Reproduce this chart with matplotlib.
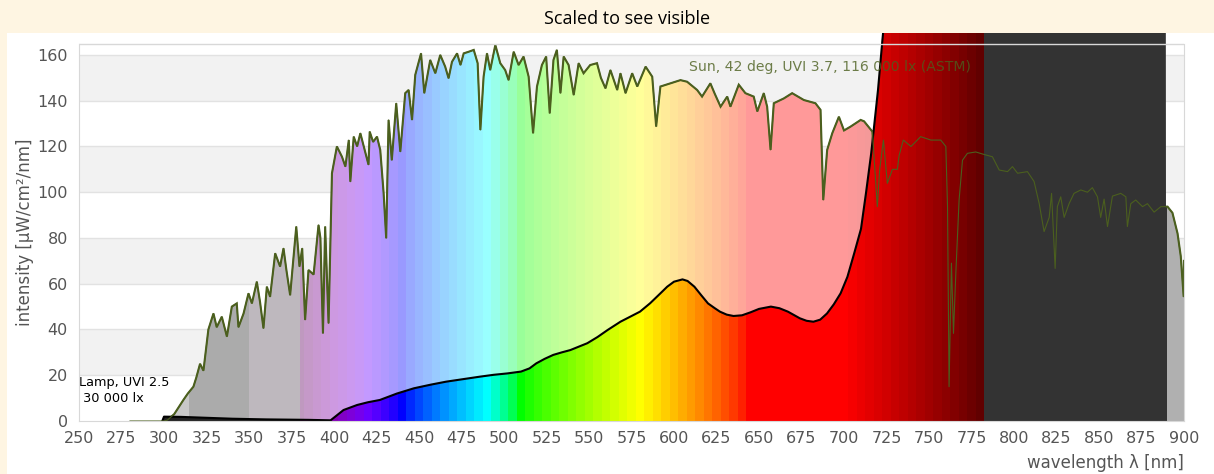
import numpy as np
import matplotlib
matplotlib.use("Agg")
import matplotlib.pyplot as plt
from matplotlib.patches import Polygon, Rectangle

# sun spectrum (ASTM, scaled)
sun_wl = [280, 300, 302, 306, 311.4, 314, 317.3, 319, 321.2, 323.2, 326.1, 329.1, 331, 334, 337,
          339.9, 342.8, 343.8, 346.8, 349.7, 351.7, 354.6, 356.5, 358.5, 360.5, 362.4, 365.4, 368.3,
          370.3, 372, 374.2, 376, 377.8, 379.7, 381.3, 383, 385, 388, 390.9, 392, 393.5, 394.8,
          396.8, 398.8, 401.7, 404.7, 406.7, 408.7, 409.6, 411.6, 413.6, 415.5, 417.5, 420.3, 421,
          423, 425.3, 427.2, 429.2, 430.7, 432.1, 434, 436.6, 439, 441.9, 443.9, 445.9, 447.8,
          451.2, 453.1, 456.6, 459.6, 462.5, 465.4, 467.4, 469.4, 472.4, 474.4, 476.3, 479.2,
          482.2, 484.5, 486.1, 488, 490, 491.9, 494.9, 497.8, 500.7, 502.7, 505.7, 508.6, 511.5,
          514.5, 517.1, 519.4, 522.3, 524.8, 526.9, 529.1, 531.1, 533.2, 535.1, 538, 541, 543.9,
          546.8, 550.7, 554.7, 557, 559.7, 562.6, 566.6, 568.5, 571.5, 575.4, 578.4, 583.3, 587.2,
          589.5, 592, 597.9, 603.8, 607.7, 613.6, 616.5, 621.4, 624, 627.4, 631.3, 633.2, 638.1,
          642, 646.9, 649, 652.8, 654.8, 656.8, 658.7, 664.6, 669.5, 676.4, 683.2, 686.2, 687.8,
          690.1, 693.1, 697, 700, 703.9, 709.8, 711.8, 714, 716.7, 719.6, 721, 723.2, 725.5, 728.5,
          731.4, 732.4, 734.9, 739.4, 745.1, 751.1, 756.9, 759.9, 760.9, 761.8, 763.2, 764.4, 765.8,
          767.7, 769.7, 772.6, 777.5, 782.4, 787.3, 791.3, 796.2, 799.1, 802.1, 807.9, 811.8, 814.8,
          817.7, 820.7, 822.1, 824.2, 825.5, 827.5, 829.5, 832.4, 835.3, 839.3, 843.2, 846.1, 849.1,
          851, 853, 855, 857.9, 862.8, 865.8, 866.7, 868.7, 871.6, 875.6, 878.5, 882.4, 886.4,
          890.3, 893.2, 896.2, 898.1, 899.8, 900]
sun_val = [0, 0, 0.4, 3, 9.2, 12, 15, 19, 25, 22, 40, 47, 41, 45.6, 36.9,
           50, 51.4, 41, 47, 55.8, 51.4, 60.9, 52, 40.5, 58.7, 54.3, 73.3, 67.5,
           75.5, 66, 55, 70, 85, 67.5, 75.5, 44.2, 66, 64, 85.7, 80, 38.3, 85,
           42.7, 108.3, 120, 115.5, 111.2, 122.8, 104.6, 124.3, 120, 125.8, 120, 112, 126.5,
           122, 124.3, 118.5, 99.5, 79.9, 131.6, 114, 138.9, 117.7, 143.3, 144.7, 131.6, 151.3,
           160.7, 143.3, 157.8, 152, 160, 154.9, 149.8, 157, 160.7, 155.6, 160.7, 161.4,
           162.2, 156.4, 127.2, 150.5, 160.7, 153.4, 164.4, 156.4, 153.4, 149, 161.4, 155.6, 159.3,
           150.5, 125.8, 146.2, 155.6, 159.3, 134.5, 157.8, 162.2, 143.3, 159.3, 155.6, 142.5, 156.4,
           152, 155.6, 156.4, 150, 145.4, 153.4, 144.7, 152, 143.3, 152, 146.2, 154.9, 150.5,
           128.7, 146.2, 147.6, 149, 148.3, 144.7, 141.8, 147.6, 143, 137.4, 141.8, 137.4, 147,
           143.3, 141.8, 135.3, 143.3, 137.4, 118.5, 138.9, 141, 143.3, 140.3, 138.9, 136, 96.6,
           118.5, 125.8, 133, 127, 128.7, 131.6, 131, 129, 126.5, 93.7, 110, 122.8, 103.9, 110,
           110, 116, 122.8, 120, 124.3, 122.8, 122.8, 120, 93.7, 15, 69, 38.3, 65,
           96.6, 114, 117, 117.6, 116.5, 115.5, 109.7, 109, 111.2, 108.3, 109, 104.7, 95.1,
           82.8, 89, 99.5, 66.7, 93.7, 98, 89, 95, 99.5, 101, 100, 102, 98,
           89, 97, 85, 98.3, 99.5, 98, 85, 95, 96.6, 93.7, 95, 91.3, 93.7,
           93.7, 91, 82, 72, 54.3, 70]

# lamp spectrum, scaled
lamp_wl = [299, 300, 310, 325, 340, 360, 385, 398, 405.6, 413.6, 420, 427, 437, 447, 457, 466,
           476, 486, 494, 502, 510, 515, 519, 524, 529, 534, 539, 544, 549, 555, 561, 568.5,
           574, 580, 586, 592, 596, 600, 605, 608, 612, 616, 620, 624, 627, 631, 635, 640, 645,
           650, 657, 662, 667, 674, 678, 682, 686, 690, 694, 698, 702, 706, 710, 713, 716, 720,
           722.6, 725, 730, 740, 760, 780, 800, 850, 889, 889.5]
lamp_val = [0, 1.9, 1.8, 1.4, 1.0, 0.7, 0.5, 0.3, 4.8, 7, 8.2, 9.2, 12, 14.3, 15.9, 17.2,
            18.3, 19.4, 20.2, 20.8, 21.6, 23, 25.2, 27.2, 28.9, 30, 31, 32.5, 34, 36.7, 39.8, 43.4,
            45.5, 47.8, 51.5, 55.8, 58.7, 60.9, 61.9, 61.2, 58.7, 55, 51.4, 49.3, 47.8, 46.5, 45.9, 46.2, 47.5,
            49, 50, 49.3, 47.8, 44.9, 43.8, 43.4, 44.3, 47, 51, 55.8, 63, 73.3, 84, 100, 117, 144.7,
            166.6, 185, 220, 280, 350, 400, 420, 440, 450, 0]

sun_label = "Sun, 42 deg, UVI 3.7, 116 000 lx (ASTM)"
lamp_label = ["Lamp, UVI 2.5", " 30 000 lx"]
x_ticks = np.arange(250, 901, 25)
y_ticks = np.arange(0, 161, 20)

sun_wl = np.array(sun_wl)
sun_val = np.array(sun_val)
lamp_wl = np.array(lamp_wl)
lamp_val = np.array(lamp_val)


def wl_rgb(w):
    # Bruton style wavelength -> rgb
    if w < 440:
        r, g, b = -(w - 440) / 60, 0, 1
    elif w < 490:
        r, g, b = 0, (w - 440) / 50, 1
    elif w < 510:
        r, g, b = 0, 1, -(w - 510) / 20
    elif w < 580:
        r, g, b = (w - 510) / 70, 1, 0
    elif w < 645:
        r, g, b = 1, -(w - 645) / 65, 0
    else:
        r, g, b = 1, 0, 0
    if w < 420:
        f = 0.3 + 0.7 * (w - 380) / 40
    elif w > 700:
        f = 0.3 + 0.7 * (780 - w) / 80
    else:
        f = 1.0
    return np.array([(r * f) ** 0.8, (g * f) ** 0.8, (b * f) ** 0.8])


def hexrgb(h):
    return np.array([int(h[i:i + 2], 16) / 255 for i in (1, 3, 5)])


cols = np.arange(280, 900, 0.5) + 0.25
pale = np.zeros((1, len(cols), 3))
sat = np.zeros((1, len(cols), 3))
for i, w in enumerate(cols):
    if w < 315:
        p, s = hexrgb('#C8C8C8'), hexrgb('#222222')
    elif w < 350:
        p, s = hexrgb('#ABABAB'), hexrgb('#222222')
    elif w < 380:
        p, s = hexrgb('#BEB8BE'), hexrgb('#222222')
    elif w < 782.5:
        s = wl_rgb(min(max(round(w / 5) * 5, 380), 780))
        p = 0.6 + 0.4 * s
    elif w < 890:
        p, s = hexrgb('#333333'), hexrgb('#333333')
    else:
        p, s = hexrgb('#B0B0B0'), hexrgb('#B0B0B0')
    pale[0, i] = p
    sat[0, i] = s

fig = plt.figure(figsize=(12.14, 4.74), dpi=100, facecolor='#FEF5E2')
fig.patches.append(Rectangle((7 / 1214, 0), 1, 441 / 474, transform=fig.transFigure,
                             fc='white', ec='none', zorder=-10))
fig.text(627 / 1214, 1 - 19 / 474, 'Scaled to see visible', ha='center', va='center',
         fontsize=13, family='Open Sans', color='black')

ax = fig.add_axes([79 / 1214, 53 / 474, 1105 / 1214, 388 / 474])
ytop = 169.6
ax.set_facecolor('white')

for lo in [20, 60, 100, 140]:
    ax.axhspan(lo, lo + 20, color='#F2F2F2', zorder=0, lw=0)
for yv in y_ticks[1:]:
    ax.axhline(yv, color='#E2E2E2', lw=1, zorder=0.5)

top = ytop
sun_poly = Polygon(np.column_stack([np.r_[sun_wl[0], sun_wl, sun_wl[-1]], np.r_[0, sun_val, 0]]),
                   closed=True, transform=ax.transData, fc='none', ec='none')
lamp_poly = Polygon(np.column_stack([np.r_[lamp_wl[0], lamp_wl, lamp_wl[-1]], np.r_[0, lamp_val, 0]]),
                    closed=True, transform=ax.transData, fc='none', ec='none')

im1 = ax.imshow(pale, extent=[280, 900, 0, top], aspect='auto', interpolation='nearest',
                origin='lower', zorder=1)
im1.set_clip_path(sun_poly)

m = sun_wl >= 300
ax.plot(sun_wl[m], sun_val[m], color='#4B5F1E', lw=1.5, zorder=2, solid_joinstyle='miter')

im2 = ax.imshow(sat, extent=[280, 900, 0, top], aspect='auto', interpolation='nearest',
                origin='lower', zorder=3)
im2.set_clip_path(lamp_poly)

ml = lamp_wl < 800
ax.plot(lamp_wl[ml], lamp_val[ml], color='black', lw=1.5, zorder=4)
ax.plot(sun_wl, sun_val, color='#4B5F1E', lw=0.8, zorder=5)

ax.axhline(165, color='#D8D8D8', lw=1, zorder=7)

ax.text(609, 154.8, sun_label, color='#4B5F1E', alpha=0.8, fontsize=10.1, va='center',
        ha='left', zorder=6)
ax.text(250.2, 16.8, lamp_label[0], color='black', fontsize=9.3, va='center', ha='left', zorder=6)
ax.text(250.2, 10.0, lamp_label[1], color='black', fontsize=9.3, va='center', ha='left', zorder=6)

ax.set_xlim(250, 900)
ax.set_ylim(0, top)
ax.set_xticks(x_ticks)
ax.set_yticks(y_ticks)
ax.tick_params(length=0, labelsize=11.5, labelcolor='#555555')
ax.tick_params(axis='y', pad=8)
ax.tick_params(axis='x', pad=7)
for s in ['left', 'right', 'bottom']:
    ax.spines[s].set_color('#D8D8D8')
    ax.spines[s].set_zorder(7)
ax.spines['left'].set_bounds(0, 165)
ax.spines['right'].set_bounds(0, 165)
ax.spines['top'].set_visible(False)

ax.set_ylabel('intensity [μW/cm²/nm]', fontsize=12, color='#555555', labelpad=6)
ax.yaxis.set_label_coords(-45 / 1105, 0.5 * 165 / top)
ax.set_xlabel('wavelength λ [nm]', fontsize=12, color='#555555', ha='right')
ax.xaxis.set_label_coords(1.0, -33 / 388)

fig.savefig('out.png', dpi=100, facecolor=fig.get_facecolor())
